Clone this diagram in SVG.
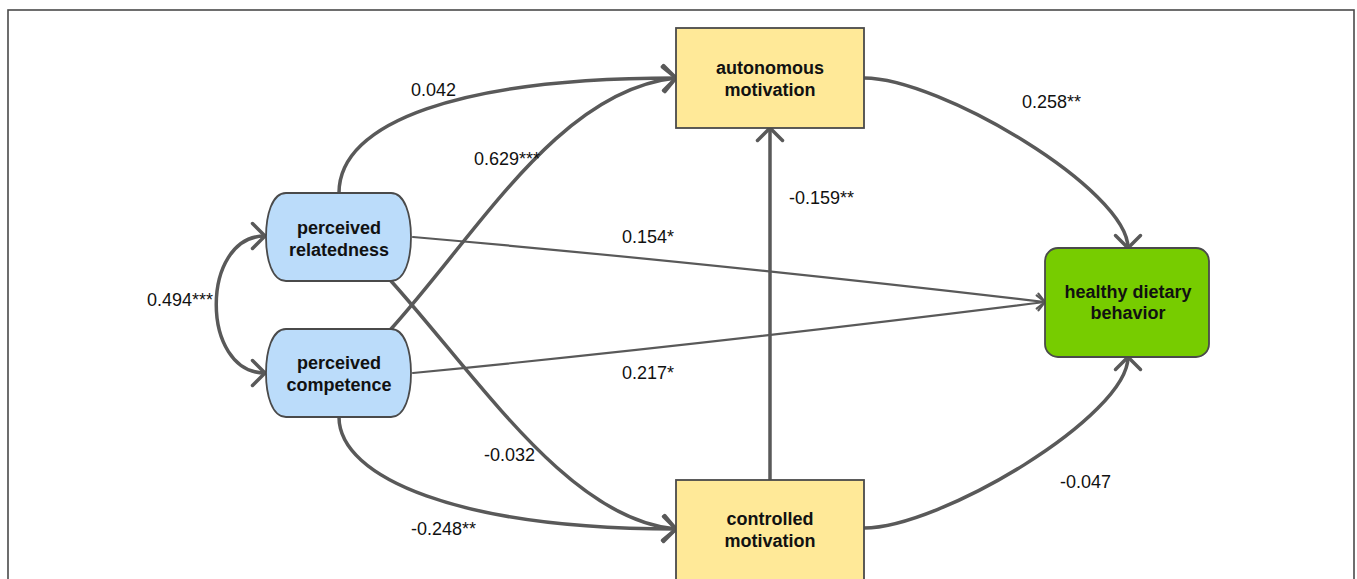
<svg xmlns="http://www.w3.org/2000/svg" width="1357" height="579" viewBox="0 0 1357 579">
  <style>
    .edge { fill: none; stroke: #595959; stroke-linecap: round; }
    .thick { stroke-width: 3.5; marker-end: url(#arrowBig); }
    .thin { stroke-width: 2.2; marker-end: url(#arrowSmall); }
    .lbl { font-family: "Liberation Sans", Arial, sans-serif; font-size: 18px; fill: #111; }
    .ntxt { font-family: "Liberation Sans", Arial, sans-serif; font-size: 18px; font-weight: bold; fill: #111; text-anchor: middle; }
    .blue { fill: #BBDCFA; stroke: #4a4a4a; stroke-width: 1.8; }
    .yellow { fill: #FFE998; stroke: #4a4a4a; stroke-width: 1.8; }
    .green { fill: #77CC00; stroke: #4a4a4a; stroke-width: 1.8; }
  </style>
  <defs>
    <marker id="arrowBig" viewBox="-16 -16 19 32" refX="0" refY="0" markerWidth="19" markerHeight="32" markerUnits="userSpaceOnUse" orient="auto-start-reverse">
      <path d="M -12.5 -12.5 L 0 0 L -12.5 12.5" fill="none" stroke="#595959" stroke-width="3.5" stroke-linecap="round" stroke-linejoin="miter"/>
    </marker>
    <marker id="arrowSmall" viewBox="-12 -12 14 24" refX="0" refY="0" markerWidth="14" markerHeight="24" markerUnits="userSpaceOnUse" orient="auto">
      <path d="M -7.5 -7.5 L 0 0 L -7.5 7.5" fill="none" stroke="#595959" stroke-width="2.2" stroke-linecap="round"/>
    </marker>
  </defs>

  <rect x="8" y="10" width="1346" height="600" fill="#ffffff" stroke="#4a4a4a" stroke-width="1.6"/>

  <g id="connectors">
    <path class="edge thick" d="M 339 193 C 339 122 460 78 676 78"/>
    <path class="edge thick" d="M 391 329 C 480 230 560 90 676 78"/>
    <path class="edge thin" d="M 413 237 Q 700 262 1045 302"/>
    <path class="edge thin" d="M 413 373 Q 700 345 1045 302"/>
    <path class="edge thick" d="M 391 281 C 480 380 570 520 676 529"/>
    <path class="edge thick" d="M 339 417 C 339 478 460 529 676 529"/>
    <path class="edge thick" d="M 770 480 L 770 128"/>
    <path class="edge thick" d="M 864 78 C 940 78 1128 190 1128 248"/>
    <path class="edge thick" d="M 864 528 C 940 528 1128 416 1128 357"/>
    <path class="edge thick" style="marker-start: url(#arrowBig)" d="M 265 236 C 200 236 200 373 265 373"/>

    <text class="lbl" x="411" y="96">0.042</text>
    <text class="lbl" x="474" y="165">0.629***</text>
    <text class="lbl" x="622" y="243">0.154*</text>
    <text class="lbl" x="147" y="306">0.494***</text>
    <text class="lbl" x="622" y="379">0.217*</text>
    <text class="lbl" x="484" y="461">-0.032</text>
    <text class="lbl" x="411" y="535">-0.248**</text>
    <text class="lbl" x="789" y="204">-0.159**</text>
    <text class="lbl" x="1022" y="108">0.258**</text>
    <text class="lbl" x="1060" y="488">-0.047</text>
  </g>

  <g id="perceived-relatedness">
    <path class="blue" d="M 286 193 H 391 C 405 193 411 215 411 237 C 411 259 405 281 391 281 H 286 C 272 281 266 259 266 237 C 266 215 272 193 286 193 Z"/>
    <text class="ntxt" x="339" y="234">perceived</text>
    <text class="ntxt" x="339" y="256">relatedness</text>
  </g>

  <g id="perceived-competence">
    <path class="blue" d="M 286 329 H 391 C 405 329 411 351 411 373 C 411 395 405 417 391 417 H 286 C 272 417 266 395 266 373 C 266 351 272 329 286 329 Z"/>
    <text class="ntxt" x="339" y="369">perceived</text>
    <text class="ntxt" x="339" y="391">competence</text>
  </g>

  <g id="autonomous-motivation">
    <rect class="yellow" x="676" y="28" width="188" height="100"/>
    <text class="ntxt" x="770" y="74">autonomous</text>
    <text class="ntxt" x="770" y="96">motivation</text>
  </g>

  <g id="controlled-motivation">
    <rect class="yellow" x="676" y="480" width="188" height="100"/>
    <text class="ntxt" x="770" y="525">controlled</text>
    <text class="ntxt" x="770" y="547">motivation</text>
  </g>

  <g id="healthy-dietary-behavior">
    <rect class="green" x="1045" y="248" width="164" height="109" rx="13" ry="13"/>
    <text class="ntxt" x="1128" y="298">healthy dietary</text>
    <text class="ntxt" x="1128" y="319">behavior</text>
  </g>
</svg>
